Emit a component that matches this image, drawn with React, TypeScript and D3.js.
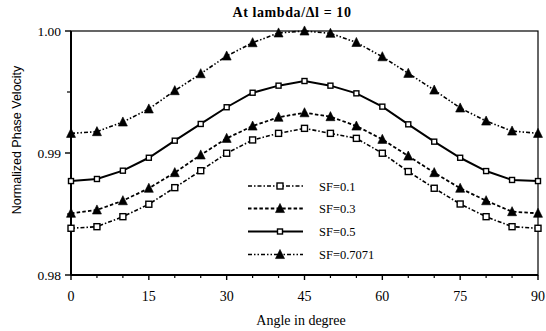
import React from "react";
import * as d3 from "d3";

const angles = [0, 5, 10, 15, 20, 25, 30, 35, 40, 45, 50, 55, 60, 65, 70, 75, 80, 85, 90];
const sf01 = [0.98383, 0.98396, 0.98478, 0.9858, 0.98716, 0.98855, 0.98998, 0.99107, 0.99161, 0.99202, 0.99161, 0.9912, 0.98998, 0.98848, 0.98711, 0.98582, 0.98478, 0.98396, 0.98383];
const sf03 = [0.98506, 0.98533, 0.98609, 0.98711, 0.98839, 0.98984, 0.9912, 0.99221, 0.99293, 0.9933, 0.99298, 0.99221, 0.99112, 0.98975, 0.98839, 0.98711, 0.98609, 0.98519, 0.98506];
const sf05 = [0.9877, 0.98787, 0.98855, 0.98961, 0.99101, 0.99238, 0.99375, 0.99494, 0.99552, 0.9959, 0.99552, 0.99489, 0.9938, 0.99235, 0.99093, 0.98961, 0.98852, 0.98779, 0.9877];
const sf07 = [0.99161, 0.99175, 0.99254, 0.99361, 0.99511, 0.9965, 0.99795, 0.99904, 0.99984, 1.0, 0.99981, 0.99906, 0.99789, 0.99653, 0.99516, 0.99369, 0.99262, 0.9918, 0.99161];

const seriesNames = ["SF=0.1", "SF=0.3", "SF=0.5", "SF=0.7071"];
const xTicks = [0, 15, 30, 45, 60, 75, 90];
const xMinor = [5, 10, 20, 25, 35, 40, 50, 55, 65, 70, 80, 85];
const yTicks = [0.98, 0.99, 1.0];
const yMinor = [0.985, 0.995];
const title = "At  lambda/\u0394l = 10";
const xLabel = "Angle in degree";
const yLabel = "Normalized Phase Velocity";

const W = 546, H = 331;
const L = 71, R = 538, T = 31, B = 275;

const styles = [
  { dash: "4,2,1.5,2", marker: "square", size: 6, width: 1.6 },
  { dash: "3.5,2.2", marker: "tri", size: 9, width: 1.8 },
  { dash: "", marker: "square", size: 5, width: 2 },
  { dash: "4,2,1.5,2,1.5,2", marker: "tri", size: 9, width: 1.6 },
];

function Marker({ kind, x, y, size }: { kind: string; x: number; y: number; size: number }) {
  if (kind === "square") {
    return <rect x={x - size / 2} y={y - size / 2} width={size} height={size} fill="#fff" stroke="#000" strokeWidth={1.4} />;
  }
  const h = size * 0.9;
  const p = `${x},${y - h / 2 - 1} ${x - size / 2},${y + h / 2} ${x + size / 2},${y + h / 2}`;
  return <polygon points={p} fill="#000" stroke="#000" strokeWidth={0.6} />;
}

export default function App() {
  const x = d3.scaleLinear().domain([0, 90]).range([L, R]);
  const y = d3.scaleLinear().domain([0.98, 1.0]).range([B, T]);
  const all = [sf01, sf03, sf05, sf07];
  const line = d3
    .line<number>()
    .x((_, i) => x(angles[i]))
    .y((d) => y(d));

  const legendY = [186, 208.5, 231.5, 254.5];
  const serif = "'Liberation Serif', 'Times New Roman', serif";
  const sans = "'Liberation Sans', Arial, sans-serif";

  return (
    <svg width={W} height={H} style={{ position: "absolute", left: 0, top: 0, background: "#fff" }}>
      <rect x={0} y={0} width={W} height={H} fill="#fff" />
      {/* frame */}
      <rect x={L} y={T} width={R - L} height={B - T} fill="none" stroke="#000" strokeWidth={1.2} />
      <line x1={L} x2={L} y1={T} y2={B} stroke="#000" strokeWidth={2} />
      <line x1={L} x2={R} y1={B} y2={B} stroke="#000" strokeWidth={1.8} />
      {/* y ticks */}
      {yTicks.map((t) => (
        <g key={"yt" + t}>
          <line x1={L - 6} x2={L} y1={y(t)} y2={y(t)} stroke="#000" strokeWidth={1.4} />
          <text x={61} y={y(t) + 4.5} textAnchor="end" fontFamily={serif} fontSize={13.5} fill="#000">
            {d3.format(".2f")(t)}
          </text>
        </g>
      ))}
      {yMinor.map((t) => (
        <line key={"ym" + t} x1={L - 4} x2={L} y1={y(t)} y2={y(t)} stroke="#000" strokeWidth={1.2} />
      ))}
      {/* x ticks */}
      {xTicks.map((t) => (
        <g key={"xt" + t}>
          <line x1={x(t)} x2={x(t)} y1={B} y2={B + 5} stroke="#000" strokeWidth={1.4} />
          <text x={x(t)} y={301} textAnchor="middle" fontFamily={serif} fontSize={14} fill="#000">
            {t}
          </text>
        </g>
      ))}
      {xMinor.map((t) => (
        <line key={"xm" + t} x1={x(t)} x2={x(t)} y1={B} y2={B + 3} stroke="#000" strokeWidth={1.2} />
      ))}
      {/* series */}
      {all.map((s, si) => (
        <g key={"s" + si}>
          <path
            d={line(s) || ""}
            fill="none"
            stroke="#000"
            strokeWidth={styles[si].width}
            strokeDasharray={styles[si].dash || undefined}
          />
          {s.map((v, i) => (
            <Marker key={i} kind={styles[si].marker} x={x(angles[i])} y={y(v)} size={styles[si].size} />
          ))}
        </g>
      ))}
      {/* legend */}
      {seriesNames.map((n, i) => (
        <g key={"lg" + i}>
          <line
            x1={248}
            x2={303}
            y1={legendY[i]}
            y2={legendY[i]}
            stroke="#000"
            strokeWidth={styles[i].width}
            strokeDasharray={styles[i].dash || undefined}
          />
          <Marker kind={styles[i].marker} x={280} y={legendY[i]} size={styles[i].size} />
          <text x={319} y={legendY[i] + 4.5} fontFamily={serif} fontSize={12.5} fill="#000">
            {n}
          </text>
        </g>
      ))}
      {/* titles */}
      <text x={292} y={17} textAnchor="middle" fontFamily={serif} fontWeight="bold" fontSize={14} letterSpacing={0.6} fill="#000">
        {title}
      </text>
      <text x={301} y={325} textAnchor="middle" fontFamily={serif} fontSize={14} fill="#000">
        {xLabel}
      </text>
      <text
        transform={`translate(21, 140) rotate(-90)`}
        textAnchor="middle"
        fontFamily={sans}
        fontSize={12.5}
        fill="#000"
      >
        {yLabel}
      </text>
    </svg>
  );
}
